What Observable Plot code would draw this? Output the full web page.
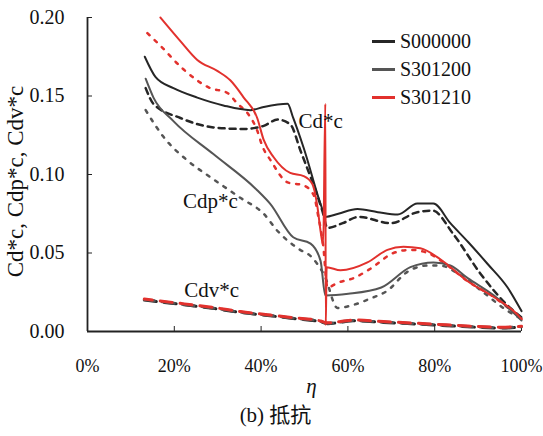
<!DOCTYPE html>
<html>
<head>
<meta charset="utf-8">
<script src="https://cdn.jsdelivr.net/npm/d3@7"></script>
<script src="https://cdn.jsdelivr.net/npm/@observablehq/plot@0.6"></script>
<style>
  body { margin: 0; background: #fff; }
  #wrap { position: relative; width: 543px; height: 436px; font-family: 'Liberation Serif', 'Noto Sans CJK SC', serif; }
  #wrap svg text { font-family: 'Liberation Serif', 'Noto Sans CJK SC', serif; }
  #legend { position: absolute; left: 372px; top: 27px; font-size: 20px; color: #111; line-height: 28px; font-family: 'Liberation Serif', serif; }
  #legend .row { display: flex; align-items: center; height: 28px; }
  #legend .sw { width: 23px; height: 3px; margin-right: 5px; }
</style>
</head>
<body>
<div id="wrap"></div>
<script>
// η (%) , value
const seriesNames = ["S000000", "S301200", "S301210"];
const seriesColors = ["#262626", "#555555", "#e2312d"];
const xTicks = [0, 20, 40, 60, 80, 100];
const yTicks = [0, 0.05, 0.10, 0.15, 0.20];

const S000000_Cd = [[13.2,0.175],[15.7,0.162],[19.8,0.155],[25.3,0.149],[31.3,0.144],[37.5,0.141],[40.6,0.143],[46.1,0.145],[47.4,0.136],[49.8,0.117],[54.1,0.078],[54.8,0.073],[57.8,0.075],[62.2,0.078],[66.9,0.076],[71.5,0.0745],[76.0,0.0815],[79.7,0.0815],[83.6,0.069],[87.7,0.057],[92.2,0.043],[96.8,0.028],[100,0.013]];
const S000000_Cdp = [[13.4,0.155],[15.2,0.145],[21.4,0.136],[29.0,0.130],[36.0,0.129],[40.6,0.131],[43.8,0.135],[46.7,0.132],[49.1,0.115],[54.1,0.077],[55.3,0.066],[58.8,0.069],[62.5,0.073],[69.9,0.069],[76.0,0.076],[79.5,0.077],[84.3,0.062],[90.5,0.037],[97.4,0.015],[100,0.009]];
const S301200_Cd = [[13.4,0.161],[15.2,0.149],[19.8,0.134],[29.0,0.113],[39.1,0.090],[42.2,0.081],[47.4,0.060],[51.4,0.056],[53.7,0.045],[54.8,0.023],[60.1,0.024],[67.7,0.028],[74.4,0.041],[79.7,0.044],[83.6,0.042],[87.6,0.034],[93.6,0.023],[100,0.007]];
const S301200_Cdp = [[13.4,0.141],[15.7,0.131],[17.5,0.124],[23.0,0.109],[29.0,0.097],[35.3,0.085],[40.6,0.075],[43.8,0.064],[48.4,0.053],[51.8,0.047],[54.7,0.035],[57.6,0.015],[61.3,0.017],[65.2,0.021],[69.1,0.026],[73.7,0.038],[78.4,0.042],[81.3,0.042],[85.3,0.037],[91.2,0.025],[96.3,0.014],[100,0.008]];
const S301210_Cd = [[16.8,0.200],[21.4,0.185],[25.3,0.173],[29.9,0.166],[32.9,0.160],[36.0,0.149],[39.1,0.136],[40.6,0.122],[42.9,0.111],[46.7,0.101],[49.8,0.099],[51.8,0.094],[53.0,0.079],[53.7,0.064],[54.3,0.055],[54.8,0.145],[54.9,0.004],[55.1,0.041],[58.3,0.039],[64.5,0.044],[69.1,0.052],[72.8,0.054],[76.7,0.053],[81.3,0.046],[87.6,0.032],[93.6,0.022],[99.0,0.011],[100,0.008]];
const S301210_Cdp = [[13.8,0.190],[16.8,0.182],[22.1,0.167],[28.3,0.155],[32.2,0.152],[34.6,0.145],[36.9,0.139],[39.1,0.128],[40.3,0.118],[42.2,0.109],[46.1,0.095],[49.8,0.093],[52.1,0.087],[53.2,0.073],[54.3,0.055],[55.3,0.028],[57.6,0.031],[61.3,0.034],[65.2,0.040],[70.5,0.050],[74.4,0.052],[78.4,0.050],[82.0,0.044],[87.6,0.032],[93.6,0.022],[100,0.008]];
const S000000_Cdv = [[13.1,0.0200],[22.3,0.0170],[29.3,0.0146],[35.3,0.0121],[41.5,0.0102],[47.4,0.0083],[53.7,0.0062],[55.3,0.0050],[61.3,0.0068],[68.2,0.0058],[79.7,0.0042],[87.6,0.0030],[95.2,0.0022],[100,0.0028]];
const S301200_Cdv = [[13.1,0.0203],[22.3,0.0172],[29.3,0.0148],[35.3,0.0123],[41.5,0.0104],[47.4,0.0085],[53.7,0.0064],[55.3,0.0052],[61.3,0.0070],[68.2,0.0060],[79.7,0.0044],[87.6,0.0032],[95.2,0.0024],[100,0.0030]];
const S301210_Cdv = [[13.1,0.0207],[22.3,0.0176],[29.3,0.0152],[35.3,0.0127],[41.5,0.0107],[47.4,0.0088],[53.7,0.0067],[55.3,0.0055],[61.3,0.0073],[68.2,0.0063],[79.7,0.0047],[87.6,0.0035],[95.2,0.0027],[100,0.0033]];

const annotations = [
  {x: 53.7, y: 0.134, text: "Cd*c"},
  {x: 28.3, y: 0.083, text: "Cdp*c"},
  {x: 28.6, y: 0.026, text: "Cdv*c"}
];

const FONT = "'Liberation Serif', 'Noto Sans CJK SC', serif";
const cdSets = [S000000_Cd, S301200_Cd, S301210_Cd];
const cdpSets = [S000000_Cdp, S301200_Cdp, S301210_Cdp];
const cdvSets = [S000000_Cdv, S301200_Cdv, S301210_Cdv];
const cdpDash = ["6,5", "3,7", "3,7"];

const lineMarks = [];
cdvSets.forEach((d, i) => lineMarks.push(Plot.line(d, {x: d => d[0], y: d => d[1], stroke: seriesColors[i], strokeWidth: 3, strokeDasharray: "12,8", strokeDashoffset: i * 2, curve: "monotone-x"})));
cdpSets.forEach((d, i) => lineMarks.push(Plot.line(d, {x: d => d[0], y: d => d[1], stroke: seriesColors[i], strokeWidth: 2.5, strokeDasharray: cdpDash[i], curve: "monotone-x"})));
cdSets.forEach((d, i) => lineMarks.push(Plot.line(d, {x: d => d[0], y: d => d[1], stroke: seriesColors[i], strokeWidth: 2, curve: "monotone-x"})));

const chart = Plot.plot({
  width: 543,
  height: 436,
  marginTop: 17,
  marginBottom: 105,
  marginLeft: 87,
  marginRight: 22,
  style: {fontFamily: FONT, fontSize: "20px", background: "#fff", color: "#111"},
  x: {domain: [0, 100]},
  y: {domain: [0, 0.2]},
  marks: [
    Plot.axisX({ticks: xTicks, tickFormat: d => d + "%", tickSize: -5, tickPadding: 33, fontSize: 18, fontFamily: FONT, label: null, stroke: "#222"}),
    Plot.axisY({ticks: yTicks, tickFormat: d3.format(".2f"), tickSize: -5, tickPadding: 28, fontSize: 20, fontFamily: FONT, label: null, stroke: "#222"}),
    Plot.ruleY([0], {stroke: "#222", strokeWidth: 1.8}),
    Plot.ruleX([0], {stroke: "#222", strokeWidth: 1.8}),
    ...lineMarks,
    Plot.text(annotations, {x: "x", y: "y", text: "text", fontSize: 21, fontFamily: FONT, fill: "#111"}),
    Plot.text(["Cd*c, Cdp*c, Cdv*c"], {frameAnchor: "left", textAnchor: "middle", rotate: -90, dx: -72, dy: 7, fontSize: 23, fontFamily: FONT, fill: "#111"}),
    Plot.text(["η"], {frameAnchor: "bottom", dx: 7, dy: 61, fontSize: 21, fontStyle: "italic", fontFamily: FONT, fill: "#111"}),
    Plot.text(["(b) 抵抗"], {frameAnchor: "bottom", dx: -29, dy: 90, fontSize: 21, fontFamily: FONT, fill: "#111"})
  ]
});

const wrap = document.getElementById("wrap");
wrap.appendChild(chart);
const legend = document.createElement("div");
legend.id = "legend";
seriesNames.forEach((n, i) => {
  const row = document.createElement("div");
  row.className = "row";
  row.innerHTML = `<span class="sw" style="background:${seriesColors[i]}"></span><span>${n}</span>`;
  legend.appendChild(row);
});
wrap.appendChild(legend);
</script>
</body>
</html>
